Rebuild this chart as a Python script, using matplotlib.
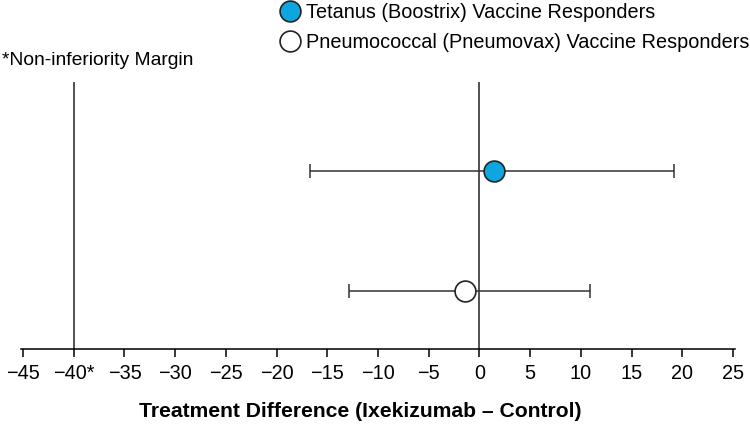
import matplotlib.pyplot as plt

# data
groups = ["Tetanus (Boostrix) Vaccine Responders",
          "Pneumococcal (Pneumovax) Vaccine Responders"]
diff = [1.4, -1.4]
ci_low = [-16.7, -12.9]
ci_high = [19.2, 10.9]
ypos = [2, 1]
face_colors = ["#0da6df", "white"]

ticks = list(range(-45, 30, 5))
tick_labels = [("\u2212%d" % -t if t < 0 else str(t)) for t in ticks]
tick_labels[1] = "\u221240*"
margin = -40

plt.rcParams['font.family'] = ['Liberation Sans', 'DejaVu Sans']

fig = plt.figure(figsize=(7.5, 4.25), dpi=100)
ax = fig.add_axes([0.028, 0.179, 0.952, 0.628])

ax.axvline(0, color="#222222", lw=1.1, zorder=1)
ax.axvline(margin, color="#222222", lw=1.1, zorder=1)

handles = []
for i in range(len(groups)):
    ax.errorbar(diff[i], ypos[i],
                xerr=[[diff[i] - ci_low[i]], [ci_high[i] - diff[i]]],
                fmt="none", ecolor="#333333", elinewidth=1.1,
                capsize=5, capthick=1.1, zorder=2)
    h, = ax.plot(diff[i], ypos[i], "o", ms=15, mfc=face_colors[i],
                 mec="#222222", mew=1.2, zorder=3, label=groups[i])
    handles.append(h)

ax.set_xlim(-45.2, 25.2)
ax.set_ylim(0.517, 2.74)
ax.set_xticks(ticks)
ax.set_xticklabels(tick_labels, fontsize=14.3)
ax.set_yticks([])
for s in ["top", "right", "left"]:
    ax.spines[s].set_visible(False)
ax.spines["bottom"].set_linewidth(1.1)
ax.tick_params(axis="x", length=5.5, width=1.1, pad=5)
ax.set_xlabel("Treatment Difference (Ixekizumab \u2013 Control)",
              fontsize=15.2, fontweight="bold")
ax.xaxis.set_label_coords(0.475, -0.236)
ax.xaxis.label.set_va("center")

fig.legend(handles=handles, loc="upper left", bbox_to_anchor=(0.362, 1.012),
           frameon=False, fontsize=14.3, handletextpad=0.25, labelspacing=0.55,
           handlelength=1.1, borderaxespad=0)

fig.text(0.003, 0.858, "*Non-inferiority Margin", fontsize=13.9,
         va="center", ha="left")

fig.savefig("out.png", dpi=100)
